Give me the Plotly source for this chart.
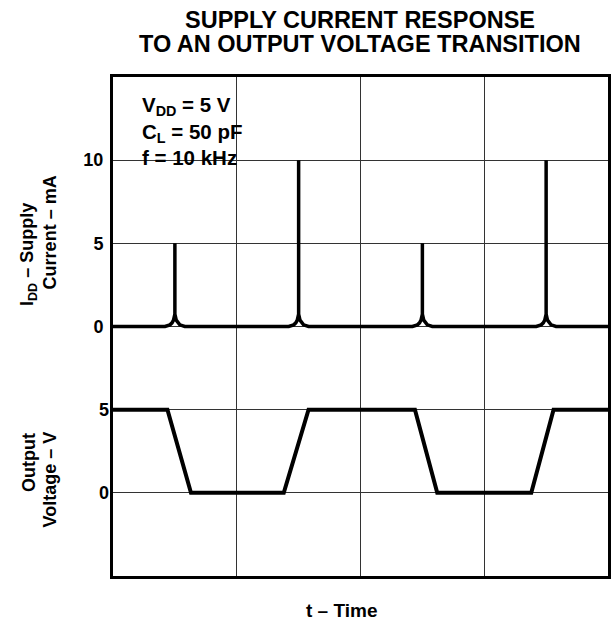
import plotly.graph_objects as go

# ---- data ----
# time axis in grid divisions (4 divisions across)
spike_times = [0.5, 1.5, 2.5, 3.5]          # positions of supply-current spikes
spike_peaks_mA = [5, 10, 5, 10]             # spike heights (mA)
cusp_dt = [-0.08, -0.04, -0.023, -0.011, 0.0]   # cusp shape near a spike (time offset)
cusp_dI = [0.0, 0.10, 0.22, 0.38, 0.75]         # cusp shape near a spike (mA)

volt_t = [0.0, 0.44, 0.63, 1.38, 1.58, 2.44, 2.62, 3.38, 3.56, 4.0]
volt_V = [5, 5, 0, 0, 5, 5, 0, 0, 5, 5]

current_ticks = [0, 5, 10]
voltage_ticks = [0, 5]

# ---- build current waveform from the read values ----
cur_t = [0.0]
cur_I = [0.0]
for s, pk in zip(spike_times, spike_peaks_mA):
    for dt, di in zip(cusp_dt, cusp_dI):
        cur_t.append(s + dt); cur_I.append(di)
    cur_t.append(s); cur_I.append(pk)
    for dt, di in zip(reversed(cusp_dt), reversed(cusp_dI)):
        cur_t.append(s - dt); cur_I.append(di)
cur_t.append(4.0); cur_I.append(0.0)

FONT = "Liberation Sans, Arial, Helvetica, sans-serif"
W, H = 613, 621

# plot area in page pixels
PX0, PX1, PY0, PY1 = 113, 611, 77, 576
def px(x):
    return (x - PX0) / (PX1 - PX0)
def py(y):
    return (PY1 - y) / (PY1 - PY0)

fig = go.Figure()
fig.add_trace(go.Scatter(x=cur_t, y=cur_I, mode="lines", yaxis="y",
                         line=dict(color="black", width=3.5), hoverinfo="skip",
                         showlegend=False))
fig.add_trace(go.Scatter(x=volt_t, y=volt_V, mode="lines", yaxis="y2",
                         line=dict(color="black", width=4), hoverinfo="skip",
                         showlegend=False))

axis_common = dict(showline=True, linecolor="black", linewidth=3, mirror=True,
                   showgrid=True, gridcolor="#333", gridwidth=1, zeroline=False,
                   ticks="", fixedrange=True)

fig.update_layout(
    width=W, height=H,
    margin=dict(l=PX0, r=W - PX1, t=PY0, b=H - PY1),
    paper_bgcolor="white", plot_bgcolor="white",
    font=dict(family=FONT, color="black"),
    xaxis=dict(range=[0, 4], tickvals=[1, 2, 3], showticklabels=False, **axis_common),
    yaxis=dict(range=[-15, 15], tickvals=current_ticks, ticktext=[str(v) for v in current_ticks],
               tickfont=dict(size=18, weight="bold", family=FONT), ticklabelstandoff=3,
               **axis_common),
    yaxis2=dict(range=[-5, 25], tickvals=voltage_ticks, ticktext=[str(v) for v in voltage_ticks],
                overlaying="y", side="left", showline=False, showgrid=True,
                gridcolor="#333", gridwidth=1, zeroline=False, ticks="",
                tickfont=dict(size=18, weight="bold", family=FONT), ticklabelstandoff=3,
                fixedrange=True),
    showlegend=False,
)

# white box behind conditions text
fig.add_shape(type="rect", xref="paper", yref="paper",
              x0=px(127), x1=px(265), y0=py(173), y1=py(88),
              fillcolor="white", line=dict(width=0), layer="between")

fig.add_annotation(xref="paper", yref="paper", x=px(140), y=py(131),
                   xanchor="left", yanchor="middle", align="left", showarrow=False,
                   text="V<sub>DD</sub> = 5 V<br>C<sub>L</sub> = 50 pF<br>f = 10 kHz",
                   font=dict(size=20.5, weight="bold", family=FONT))

# title (two lines)
for txt, yc in [("SUPPLY CURRENT RESPONSE", 20), ("TO AN OUTPUT VOLTAGE TRANSITION", 44)]:
    fig.add_annotation(xref="paper", yref="paper", x=px(361), y=py(yc),
                       xanchor="center", yanchor="middle", showarrow=False, text=txt,
                       font=dict(size=23.5, weight="bold", family=FONT))

# y titles (rotated; bottom anchor = start of text)
for txt, xc, ybot in [("I<sub>DD</sub> – Supply", 28, 308),
                      ("Current – mA", 50, 291),
                      ("Output", 28, 494),
                      ("Voltage – V", 50, 529)]:
    fig.add_annotation(xref="paper", yref="paper", x=px(xc), y=py(ybot),
                       xanchor="center", yanchor="bottom", showarrow=False, textangle=-90,
                       text=txt, font=dict(size=18, weight="bold", family=FONT))

# x title
fig.add_annotation(xref="paper", yref="paper", x=px(343), y=py(610),
                   xanchor="center", yanchor="middle", showarrow=False,
                   text="t – Time", font=dict(size=19, weight="bold", family=FONT))

fig.write_html("out.html", config={"displayModeBar": False},
               post_script="document.body.style.margin='0';")
